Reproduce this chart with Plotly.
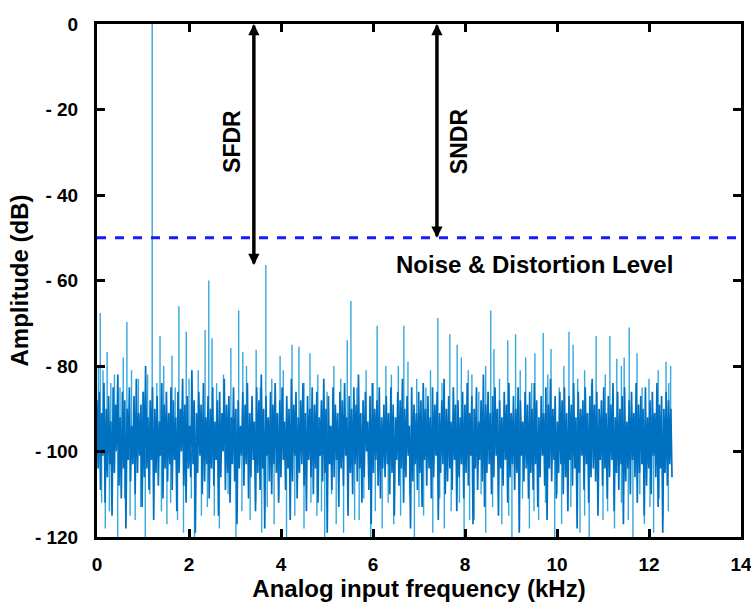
import numpy as np
import plotly.graph_objects as go

# ---------------- data ----------------
# noise floor (dB), 8 consecutive segments covering 0 .. 12.5 kHz
noise_a = [-88,-104,-86,-109,-91,-101,-84,-112,-90,-106,-87,-103,-93,-115,-85,-105,-89,-100,-82,-108,-92,-111,-86,-104,-88,-118,-90,-102,-85,-107,-94,-103,
           -87,-110,-83,-105,-91,-101,-89,-113,-86,-106,-80,-104,-92,-109,-88,-102,-85,-116,-90,-105,-87,-108,-93,-101,-84,-111,-89,-104,-86,-107,-91,-103]
noise_b = [-85,-109,-88,-102,-92,-114,-86,-105,-90,-100,-83,-108,-89,-112,-87,-104,-94,-106,-81,-103,-88,-119,-91,-105,-86,-101,-89,-110,-84,-107,-92,-103,
           -87,-111,-90,-104,-85,-108,-93,-102,-88,-115,-86,-106,-91,-100,-83,-109,-89,-105,-87,-112,-92,-103,-85,-107,-90,-117,-88,-104,-94,-101]
noise_c = [-86,-108,-89,-103,-84,-111,-91,-106,-87,-102,-93,-114,-85,-105,-88,-109,-82,-104,-90,-118,-87,-101,-92,-107,-86,-110,-89,-103,-84,-105,-91,-112,
           -88,-106,-85,-102,-93,-109,-87,-104,-90,-116,-83,-107,-89,-101,-86,-111,-92,-105,-88,-103,-84,-108,-91,-114,-87,-102,-90,-106,-85,-110]
noise_d = [-89,-104,-86,-112,-92,-101,-88,-107,-83,-105,-90,-119,-87,-103,-94,-109,-85,-106,-89,-102,-91,-113,-86,-104,-88,-108,-84,-101,-92,-115,-87,-105,
           -90,-110,-85,-103,-89,-107,-82,-104,-91,-112,-88,-106,-86,-100,-93,-109,-87,-117,-84,-105,-90,-102,-88,-108,-85,-111,-92,-104,-89,-106]
noise_e = [-87,-103,-91,-110,-85,-105,-89,-115,-92,-102,-86,-108,-88,-104,-83,-112,-90,-106,-87,-101,-94,-118,-85,-107,-89,-103,-91,-109,-86,-105,-88,-113,
           -84,-102,-90,-108,-87,-104,-92,-111,-85,-106,-89,-101,-86,-116,-91,-105,-88,-103,-83,-110,-90,-107,-87,-104,-93,-109,-85,-102,-89,-114]
noise_f = [-88,-106,-92,-103,-86,-111,-89,-105,-84,-108,-91,-101,-87,-117,-90,-104,-85,-109,-93,-102,-88,-107,-82,-113,-89,-105,-86,-103,-91,-110,-87,-106,
           -85,-101,-90,-115,-88,-104,-92,-108,-86,-102,-89,-112,-84,-106,-91,-103,-87,-109,-90,-105,-85,-119,-88,-101,-93,-107,-86,-104,-89,-111]
noise_g = [-86,-105,-90,-109,-84,-103,-88,-113,-92,-106,-87,-101,-91,-108,-85,-116,-89,-104,-83,-107,-90,-102,-87,-111,-93,-105,-86,-103,-88,-110,-85,-106,
           -91,-114,-87,-102,-89,-108,-84,-104,-92,-118,-86,-105,-90,-101,-88,-109,-85,-103,-91,-112,-87,-106,-83,-104,-89,-107,-86,-115,-90,-102]
noise_h = [-88,-108,-85,-104,-91,-111,-87,-106,-89,-102,-84,-114,-92,-105,-86,-109,-90,-103,-87,-117,-85,-107,-93,-104,-88,-110,-86,-102,-91,-106,-84,-112,
           -89,-105,-87,-103,-90,-115,-85,-108,-92,-104,-88,-110,-86,-101,-91,-106,-84,-113,-89,-104,-87,-119,-90,-105,-86,-108,-88,-103,-90,-106]

# signal tone and spurs, upward (kHz, dB)
spur_khz = [0.07, 0.13, 0.22, 0.57, 0.65, 1.20, 1.37, 1.63, 1.78, 1.94, 2.35, 2.43, 2.50, 2.91, 3.08, 3.17, 3.46, 3.67,
            3.98, 4.24, 4.39, 4.63, 5.44, 5.52, 6.09, 6.28, 6.67, 6.76, 7.41, 7.67, 7.83, 7.92, 8.07, 8.56, 8.63,
            8.93, 9.10, 9.32, 9.52, 9.70, 9.87, 10.26, 10.35, 10.85, 11.15, 11.30, 11.46, 11.57, 11.74, 12.37, 12.47]
spur_db = [-67.6, -81, -76.7, -78, -69.7, 0, -73, -77.6, -66, -72, -71.6, -60, -73.5, -75.8, -67, -76.7, -76.2, -56.4,
           -77.6, -75, -75.5, -77, -74, -64.8, -70.6, -80, -70.6, -79, -68.8, -72.6, -75, -78, -81, -67, -76,
           -74, -72.6, -78, -77, -72.3, -76, -72, -75, -73, -73, -78.3, -78, -71, -77, -79, -80]

# smaller upward peaks of the noise floor (kHz, dB)
peak_khz = [0.03, 0.30, 0.38, 0.50, 0.75, 0.90, 1.00, 1.10, 1.30, 1.45, 1.70, 2.00, 2.20, 2.60, 2.75, 3.25, 3.55, 3.80,
            4.05, 4.50, 4.80, 5.00, 5.15, 5.30, 5.65, 5.85, 6.00, 6.40, 6.55, 6.95, 7.15, 7.25, 7.50, 8.15, 8.30, 8.45,
            8.75, 9.20, 9.45, 9.80, 10.05, 10.15, 10.45, 10.60, 10.75, 11.05, 11.40, 11.85, 12.00, 12.20, 12.43]
peak_db = [-80, -84, -82, -85, -81, -83, -86, -82, -84, -80, -85, -83, -81, -84, -82, -80, -85, -83,
           -81, -84, -82, -86, -80, -83, -85, -81, -84, -82, -80, -83, -85, -81, -84, -82, -86, -80,
           -83, -81, -84, -82, -85, -80, -83, -81, -84, -82, -80, -85, -83, -81, -84]

# deep dips of the noise floor (kHz, dB)
dip_khz = [0.18, 0.45, 0.83, 1.05, 1.52, 1.88, 2.12, 2.27, 2.66, 3.02, 3.33, 3.58, 3.85, 4.12, 4.5, 4.78, 4.95, 5.2,
           5.36, 5.7, 5.95, 6.2, 6.45, 6.9, 7.1, 7.3, 7.55, 7.98, 8.2, 8.45, 8.8, 9.02, 9.4, 9.6, 9.95, 10.1, 10.5,
           10.7, 11.0, 11.25, 11.65, 11.9, 12.1, 12.3,
           0.10, 0.27, 0.60, 0.72, 0.95, 1.15, 1.40, 1.60, 1.75, 2.05, 2.40, 2.55, 2.85, 3.15, 3.45, 3.70, 3.95,
           4.30, 4.65, 4.88, 5.10, 5.45, 5.60, 5.80, 6.05, 6.33, 6.60, 6.80, 7.00, 7.45, 7.70, 7.88, 8.10, 8.35,
           8.60, 8.95, 9.25, 9.50, 9.75, 10.00, 10.30, 10.60, 10.90, 11.10, 11.40, 11.55, 11.80, 12.02, 12.22, 12.42]
dip_db = [-118, -120, -116, -120, -117, -119, -120, -115, -118, -120, -116, -119, -117, -120, -118, -115, -120, -117,
          -119, -116, -120, -118, -117, -120, -115, -119, -118, -120, -116, -119, -117, -120, -118, -116, -120, -117,
          -119, -120, -116, -118, -120, -117, -119, -116,
          -112, -114, -111, -115, -113, -110, -114, -112, -116, -111, -113, -115, -110, -114, -112, -113, -111,
          -115, -112, -114, -110, -113, -116, -111, -114, -112, -115, -110, -113, -111, -114, -112, -116, -110,
          -113, -115, -111, -114, -112, -110, -113, -115, -111, -114, -112, -116, -110, -113, -111, -114]

noise_floor_level = -50          # dashed line
sfdr_khz, sfdr_bottom = 3.41, -56.4
sndr_khz, sndr_bottom = 7.39, -50

x_ticks = [0, 2, 4, 6, 8, 10, 12, 14]
y_ticks = [0, -20, -40, -60, -80, -100, -120]
y_tick_text = ["0", "- 20", "- 40", "- 60", "- 80", "- 100", "- 120"]

# ---------------- figure ----------------
noise_db = noise_a + noise_b + noise_c + noise_d + noise_e + noise_f + noise_g + noise_h
noise_khz = np.linspace(0, 12.5, len(noise_db))

fig = go.Figure()

# spurs / peaks / dips drawn as thin vertical lines from the noise band
sx, sy = [], []
for f, v in list(zip(spur_khz, spur_db)) + list(zip(peak_khz, peak_db)):
    sx += [f, f, None]
    sy += [-96, v, None]
for f, v in zip(dip_khz, dip_db):
    sx += [f, f, None]
    sy += [-100, v, None]
fig.add_trace(go.Scatter(x=sx, y=sy, mode="lines",
                         line=dict(color="#33a8dd", width=1.4), hoverinfo="skip"))

fig.add_trace(go.Scatter(x=noise_khz, y=noise_db, mode="lines",
                         line=dict(color="#0070c0", width=1.7), hoverinfo="skip"))

# dashed noise & distortion level
fig.add_shape(type="line", xref="x", yref="y", x0=0, x1=14,
              y0=noise_floor_level, y1=noise_floor_level,
              line=dict(color="#1a1aff", width=3, dash="dash"))

bold = dict(family="Liberation Sans, Arial, sans-serif", color="black", weight="bold")

for xk, yb in [(sfdr_khz, sfdr_bottom), (sndr_khz, sndr_bottom)]:
    fig.add_annotation(x=xk, y=0, ax=xk, ay=yb, xref="x", yref="y", axref="x", ayref="y",
                       text="", showarrow=True, arrowhead=2, arrowsize=0.75,
                       arrowwidth=3, arrowcolor="black")
    fig.add_annotation(x=xk, y=yb, ax=xk, ay=0, xref="x", yref="y", axref="x", ayref="y",
                       text="", showarrow=True, arrowhead=2, arrowsize=0.75,
                       arrowwidth=3, arrowcolor="black")

fig.add_annotation(x=2.93, y=-27.4, xref="x", yref="y", text="SFDR", showarrow=False,
                   textangle=-90, font=dict(size=23, **bold))
fig.add_annotation(x=7.87, y=-27.4, xref="x", yref="y", text="SNDR", showarrow=False,
                   textangle=-90, font=dict(size=23, **bold))
fig.add_annotation(x=9.52, y=-56.2, xref="x", yref="y", text="Noise & Distortion Level",
                   showarrow=False, font=dict(size=24, **bold))

axis_common = dict(showline=True, linecolor="black", linewidth=3, mirror="ticks",
                   ticks="inside", ticklen=8, tickwidth=2.5, tickcolor="black",
                   showgrid=False, zeroline=False, automargin=False,
                   ticklabeloverflow="allow", tickfont=dict(size=19, **bold))

fig.update_xaxes(range=[0, 14], tickvals=x_ticks, ticktext=[str(t) for t in x_ticks],
                 title=dict(text="Analog input frequency (kHz)", font=dict(size=24, **bold), standoff=4),
                 ticklabelstandoff=8, **axis_common)
fig.update_yaxes(range=[-120, 0], tickvals=y_ticks, ticktext=y_tick_text,
                 title=dict(text="Amplitude (dB)", font=dict(size=24, **bold), standoff=0),
                 ticklabelstandoff=12, **axis_common)

fig.update_layout(width=751, height=605, margin=dict(l=97, r=10, t=24, b=68),
                  plot_bgcolor="white", paper_bgcolor="white", showlegend=False)

fig.write_html("out.html")
